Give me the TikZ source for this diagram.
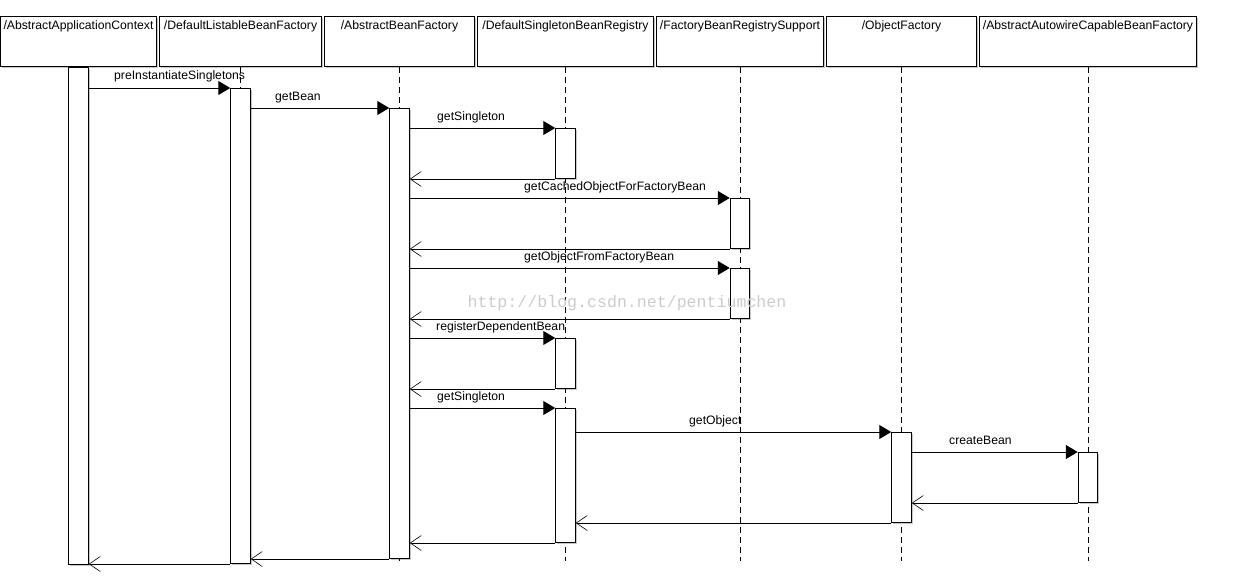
\documentclass[tikz,border=0pt]{standalone}
\usepackage{fontspec}
\setmainfont{Liberation Sans}
\newfontfamily\wmfont{Liberation Mono}
\usetikzlibrary{arrows.meta,shadows}
\begin{document}
\begin{tikzpicture}[x=1pt,y=-1pt,
  font=\fontsize{12.2}{14}\selectfont,
  shad/.style={drop shadow={shadow xshift=1.6pt,shadow yshift=-1.6pt,fill=black,opacity=0.22}},
  head/.style={draw,line width=1pt,fill=white,minimum height=50pt,inner sep=0pt,anchor=north west,shad},
  htext/.style={anchor=base,inner sep=0pt},
  bar/.style={draw,line width=1pt,fill=white,minimum width=19.5pt,inner sep=0pt,anchor=north,shad},
  life/.style={line width=1pt,dash pattern=on 6pt off 4pt},
  call/.style={line width=1pt,-{Triangle[length=12pt,width=14pt]}},
  ret/.style={line width=1pt,-{Straight Barb[length=11pt,width=15pt,line width=0.6pt]}},
  lbl/.style={anchor=base west,inner sep=0pt},
  wm/.style={font=\wmfont\fontsize{16.6}{18}\selectfont,text=black!20,inner sep=0pt}]
\useasboundingbox (0,0) rectangle (1234,586);

% headers
\node[head,minimum width=156pt] (hA) at (0,16) {};
\node[head,minimum width=162pt] (hL) at (159,16) {};
\node[head,minimum width=150pt] (hB) at (324,16) {};
\node[head,minimum width=176pt] (hD) at (477,16) {};
\node[head,minimum width=167pt] (hF) at (656,16) {};
\node[head,minimum width=150pt] (hO) at (826,16) {};
\node[head,minimum width=217pt] (hW) at (979,16) {};
\node[htext] (tA) at (hA.north |- 0,30) {/AbstractApplicationContext};
\node[htext] (tL) at (hL.north |- 0,30) {/DefaultListableBeanFactory};
\node[htext] (tB) at (hB.north |- 0,30) {/AbstractBeanFactory};
\node[htext] (tD) at (hD.north |- 0,30) {/DefaultSingletonBeanRegistry};
\node[htext] (tF) at (hF.north |- 0,30) {/FactoryBeanRegistrySupport};
\node[htext] (tO) at (hO.north |- 0,30) {/ObjectFactory};
\node[htext] (tW) at (hW.north |- 0,30) {/AbstractAutowireCapableBeanFactory};

% lifelines
\foreach \h in {hA,hL,hB,hD,hF,hO,hW}
  \draw[life] (\h.south) -- ++(0,494);

% activation bars
\node[bar,minimum height=497pt] (A1) at (hA.south) {};
\node[bar,minimum height=475pt] (L1) at (hL.south |- 0,88) {};
\node[bar,minimum height=450pt] (B1) at (hB.south |- 0,108) {};
\node[bar,minimum height=50pt]  (D1) at (hD.south |- 0,128) {};
\node[bar,minimum height=50pt]  (F1) at (hF.south |- 0,198) {};
\node[bar,minimum height=50pt]  (F2) at (hF.south |- 0,268) {};
\node[bar,minimum height=50pt]  (D2) at (hD.south |- 0,338) {};
\node[bar,minimum height=134pt] (D3) at (hD.south |- 0,408) {};
\node[bar,minimum height=90pt]  (O1) at (hO.south |- 0,432) {};
\node[bar,minimum height=50pt]  (W1) at (hW.south |- 0,452) {};

% messages
\draw[call] (A1.east |- L1.north) -- (L1.north west);
\node[lbl] (m1) at (114,80) {preInstantiateSingletons};
\draw[call] (L1.east |- B1.north) -- (B1.north west);
\node[lbl] (m2) at (275,100) {getBean};
\draw[call] (B1.east |- D1.north) -- (D1.north west);
\node[lbl] (m3) at (437,120) {getSingleton};
\draw[ret] (D1.south west) -- (B1.east |- D1.south);
\draw[call] (B1.east |- F1.north) -- (F1.north west);
\node[lbl] (m4) at (524,190) {getCachedObjectForFactoryBean};
\draw[ret] (F1.south west) -- (B1.east |- F1.south);
\draw[call] (B1.east |- F2.north) -- (F2.north west);
\node[lbl] (m5) at (524,260) {getObjectFromFactoryBean};
\draw[ret] (F2.south west) -- (B1.east |- F2.south);
\draw[call] (B1.east |- D2.north) -- (D2.north west);
\node[lbl] (m6) at (436,330) {registerDependentBean};
\draw[ret] (D2.south west) -- (B1.east |- D2.south);
\draw[call] (B1.east |- D3.north) -- (D3.north west);
\node[lbl] (m7) at (437,400) {getSingleton};
\draw[call] (D3.east |- O1.north) -- (O1.north west);
\node[lbl] (m8) at (689,424) {getObject};
\draw[call] (O1.east |- W1.north) -- (W1.north west);
\node[lbl] (m9) at (949,444) {createBean};
\draw[ret] (W1.south west) -- (O1.east |- W1.south);
\draw[ret] (O1.south west) -- (D3.east |- O1.south);
\draw[ret] (D3.south west) -- (B1.east |- D3.south);
\draw[ret] (B1.south west) -- (L1.east |- B1.south);
\draw[ret] (L1.south west) -- (A1.east |- L1.south);

% watermark
\node[wm] (wmk) at (627,303) {http://blog.csdn.net/pentiumchen};
\end{tikzpicture}
\end{document}
